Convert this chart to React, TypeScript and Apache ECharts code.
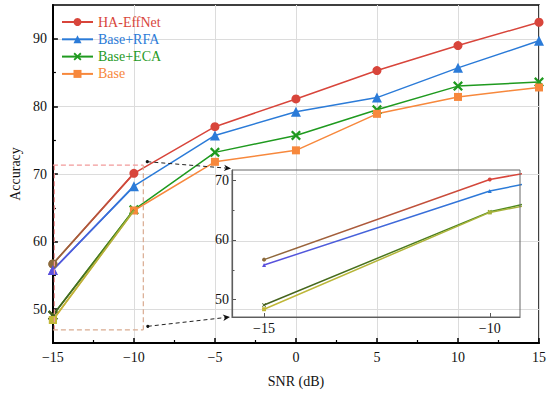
import React, { useEffect, useRef } from "react";
import * as echarts from "echarts";

// ---- data ----
const snr = [-15, -10, -5, 0, 5, 10, 15];
const haEffNet = [56.7, 70.1, 77.0, 81.1, 85.3, 89.0, 92.45];
const baseRFA = [55.8, 68.2, 75.7, 79.2, 81.3, 85.7, 89.7];
const baseECA = [49.1, 64.7, 73.2, 75.7, 79.5, 83.0, 83.6];
const base = [48.4, 64.6, 71.8, 73.5, 78.9, 81.4, 82.8];
const seriesNames = ["HA-EffNet", "Base+RFA", "Base+ECA", "Base"];
const yTicks = [50, 60, 70, 80, 90];
const yMinorTicks = [55, 65, 75, 85];
const insetXTicks = [-15, -10];
const insetYTicks = [50, 60, 70];
const insetYMinorTicks = [55, 65];
// zoom window (data coords of main plot) and inset ranges
const zoomX = [-15, -9.42];
const zoomY = [46.95, 71.3];
const insetXRange = [-15.71, -9.33];
const insetYRange = [47.1, 71.7];

const valueSets = [haEffNet, baseRFA, baseECA, base];
const colors = ["#d8453b", "#2b7bd8", "#1f9a1f", "#f7883c"];
const muted = ["#8c6a3c", "#5b50dc", "#44601e", "#c2b838"];
const endCol = ["#d8453b", "#2b7bd8", "#4f8a1e", "#a6b23a"];
const xSymbol =
  "path://M0,1.6L1.6,0L5,3.4L8.4,0L10,1.6L6.6,5L10,8.4L8.4,10L5,6.6L1.6,10L0,8.4L3.4,5Z";
const symbols = ["circle", "triangle", xSymbol, "rect"];
const sizes = [9, 10, 10, 8];
const FONT = "Times New Roman, Liberation Serif, DejaVu Serif, serif";

const fmt = (v: number) => String(v).replace("-", "\u2212");

export default function App() {
  const ref = useRef<HTMLDivElement>(null);
  useEffect(() => {
    if (!ref.current) return;
    const chart = echarts.init(ref.current, undefined, { renderer: "svg" });

    const mainSeries = valueSets.map((vals, k) => ({
      id: "main" + k,
      name: seriesNames[k],
      type: "line",
      xAxisIndex: 0,
      yAxisIndex: 0,
      data: snr.map((x, i) =>
        i === 0 ? { value: [x, vals[i]], itemStyle: { color: muted[k] } } : [x, vals[i]]
      ),
      symbol: symbols[k],
      symbolSize: sizes[k],
      showAllSymbol: true,
      lineStyle: { color: colors[k], width: 1.5 },
      itemStyle: { color: colors[k] },
      z: 3,
    }));
    const overlaySeries = valueSets.map((vals, k) => ({
      id: "ovl" + k,
      name: seriesNames[k],
      type: "line",
      xAxisIndex: 0,
      yAxisIndex: 0,
      data: snr.slice(0, 2).map((x, i) =>
        i === 0
          ? { value: [x, vals[i]], symbol: symbols[k], symbolSize: sizes[k] }
          : { value: [x, vals[i]], symbol: "none" }
      ),
      lineStyle: { color: muted[k], width: 1.7 },
      itemStyle: { color: muted[k] },
      z: 4,
    }));
    const insetSeries = valueSets.map((vals, k) => ({
      id: "ins" + k,
      name: seriesNames[k],
      type: "line",
      xAxisIndex: 1,
      yAxisIndex: 2,
      data: snr.map((x, i) => ({
        value: [x, vals[i]],
        itemStyle: { color: i === 0 ? muted[k] : endCol[k] },
      })),
      symbol: symbols[k],
      symbolSize: 4,
      showAllSymbol: true,
      clip: true,
      lineStyle: { color: muted[k], width: 1.5 },
      z: 5,
    }));

    const axisLabelBase = { fontFamily: FONT, fontSize: 14, color: "#111" };
    const noZero = { onZero: false };

    const option: any = {
      animation: false,
      textStyle: { fontFamily: FONT },
      grid: [
        { left: 41, right: 11, top: 5, bottom: 49, show: true, borderColor: "#000", borderWidth: 1.5 },
        { left: 232, top: 170, width: 288, height: 147, show: true, borderColor: "#666", borderWidth: 1, backgroundColor: "transparent", z: 6 },
      ],
      legend: {
        orient: "vertical",
        left: 56,
        top: 10,
        itemWidth: 31,
        itemHeight: 10,
        itemGap: 3.3,
        selectedMode: false,
        textStyle: { fontFamily: FONT, fontSize: 14, lineHeight: 14 },
        data: seriesNames.map((n, k) => ({ name: n, textStyle: { color: colors[k], fontFamily: FONT } })),
      },
      xAxis: [
        {
          type: "value",
          gridIndex: 0,
          min: -15,
          max: 15,
          interval: 5,
          axisLine: { show: true, ...noZero, lineStyle: { color: "#000", width: 2 } },
          axisTick: { show: true, inside: true, length: 5, lineStyle: { color: "#000", width: 1.5 } },
          minorTick: { show: true, splitNumber: 2, length: 3, lineStyle: { color: "#000", width: 1.2 } },
          axisLabel: { ...axisLabelBase, margin: 7, formatter: fmt },
          splitLine: { show: true, lineStyle: { color: "#dcdcdc", width: 1 } },
          name: "SNR (dB)",
          nameLocation: "middle",
          nameGap: 31,
          nameTextStyle: { fontFamily: FONT, fontSize: 14, color: "#111" },
        },
        {
          type: "value",
          gridIndex: 1,
          min: insetXRange[0],
          max: insetXRange[1],
          axisLine: { show: true, ...noZero, lineStyle: { color: "#555", width: 1.2 } },
          axisTick: { show: true, inside: true, length: 4, customValues: insetXTicks, lineStyle: { color: "#555" } },
          axisLabel: { ...axisLabelBase, margin: 4, customValues: insetXTicks, formatter: fmt },
          splitLine: { show: false },
        },
      ],
      yAxis: [
        {
          type: "value",
          gridIndex: 0,
          min: 45,
          max: 95,
          axisLine: { show: true, ...noZero, lineStyle: { color: "#000", width: 2 } },
          axisTick: { show: true, inside: true, length: 5, customValues: yTicks, lineStyle: { color: "#000", width: 1.5 } },
          axisLabel: { ...axisLabelBase, margin: 6, customValues: yTicks, formatter: fmt },
          splitLine: { show: true, lineStyle: { color: "#dcdcdc", width: 1 } },
          name: "Accuracy",
          nameLocation: "middle",
          nameGap: 30,
          nameTextStyle: { fontFamily: FONT, fontSize: 14, color: "#111" },
        },
        {
          type: "value",
          gridIndex: 0,
          min: 45,
          max: 95,
          position: "left",
          axisLine: { show: false, ...noZero },
          axisTick: { show: true, inside: true, length: 3, customValues: yMinorTicks, lineStyle: { color: "#000", width: 1.2 } },
          axisLabel: { show: false },
          splitLine: { show: false },
        },
        {
          type: "value",
          gridIndex: 1,
          min: insetYRange[0],
          max: insetYRange[1],
          axisLine: { show: true, ...noZero, lineStyle: { color: "#555", width: 1.2 } },
          axisTick: { show: true, inside: true, length: 4, customValues: insetYTicks, lineStyle: { color: "#555" } },
          axisLabel: { ...axisLabelBase, margin: 3, customValues: insetYTicks, formatter: fmt },
          splitLine: { show: false },
        },
        {
          type: "value",
          gridIndex: 1,
          min: insetYRange[0],
          max: insetYRange[1],
          position: "left",
          axisLine: { show: false, ...noZero },
          axisTick: { show: true, inside: true, length: 2.5, customValues: insetYMinorTicks, lineStyle: { color: "#555" } },
          axisLabel: { show: false },
          splitLine: { show: false },
        },
      ],
      series: [...mainSeries, ...overlaySeries, ...insetSeries],
    };
    chart.setOption(option);

    // ---- second pass: gradients and zoom annotations in pixel space ----
    const pm = (x: number, y: number) =>
      chart.convertToPixel({ xAxisIndex: 0, yAxisIndex: 0 } as any, [x, y]) as number[];
    const pi = (x: number, y: number) =>
      chart.convertToPixel({ xAxisIndex: 1, yAxisIndex: 2 } as any, [x, y]) as number[];

    const m0 = pm(snr[0], 50)[0];
    const m1 = pm(snr[1], 50)[0];
    const i0 = pi(snr[0], 50)[0];
    const i1 = pi(snr[1], 50)[0];
    const grad = (a: number, b: number, k: number) =>
      new echarts.graphic.LinearGradient(a, 0, b, 0, [
        { offset: 0, color: muted[k] },
        { offset: 1, color: endCol[k] },
      ], true);

    const upd: any[] = [];
    valueSets.forEach((_, k) => {
      upd.push({ id: "ovl" + k, lineStyle: { color: grad(m0, m1, k) } });
      upd.push({ id: "ins" + k, lineStyle: { color: grad(i0, i1, k) } });
    });

    const tl = pm(zoomX[0], zoomY[1]);
    const tr = pm(zoomX[1], zoomY[1]);
    const bl = pm(zoomX[0], zoomY[0]);
    const br = pm(zoomX[1], zoomY[0]);
    const itl = pi(insetXRange[0], insetYRange[1]);
    const ibl = pi(insetXRange[0], insetYRange[0]);

    const dashPink = { stroke: "#f29a9a", lineWidth: 1.2, lineDash: [5, 3] };
    const dashTan = { stroke: "#d9ab90", lineWidth: 1.2, lineDash: [5, 3] };
    const line = (a: number[], b: number[], style: any) => ({
      type: "line",
      shape: { x1: a[0], y1: a[1], x2: b[0], y2: b[1] },
      style,
      z: 10,
      silent: true,
    });
    const arrow = (s: number[], e: number[]) => {
      const dx = e[0] - s[0];
      const dy = e[1] - s[1];
      const L = Math.hypot(dx, dy);
      const ux = dx / L;
      const uy = dy / L;
      const px = -uy;
      const py = ux;
      const bx = e[0] - ux * 7;
      const by = e[1] - uy * 7;
      return [
        line(s, [bx + ux * 2, by + uy * 2], { stroke: "#222", lineWidth: 1, lineDash: [4, 3] }),
        { type: "circle", shape: { cx: s[0], cy: s[1], r: 1.6 }, style: { fill: "#111" }, z: 10, silent: true },
        {
          type: "polygon",
          shape: {
            points: [
              [e[0], e[1]],
              [bx + px * 3.2, by + py * 3.2],
              [bx + ux * 2, by + uy * 2],
              [bx - px * 3.2, by - py * 3.2],
            ],
          },
          style: { fill: "#111" },
          z: 10,
          silent: true,
        },
      ];
    };

    const graphics: any[] = [
      line(tl, tr, dashPink),
      line([tl[0] + 1.5, tl[1]], [bl[0] + 1.5, bl[1]], dashPink),
      line(tr, br, dashTan),
      line(bl, br, dashTan),
      ...arrow([tr[0] + 4, tr[1] - 3.5], [itl[0] - 1, itl[1] - 1.5]),
      ...arrow([br[0] + 4.5, br[1] - 3.5], [ibl[0] - 2, ibl[1]]),
    ];

    chart.setOption({ series: upd, graphic: graphics });

    return () => chart.dispose();
  }, []);
  return (
    <div
      ref={ref}
      style={{ position: "fixed", left: 0, top: 0, width: 550, height: 393, background: "#fff" }}
    />
  );
}
